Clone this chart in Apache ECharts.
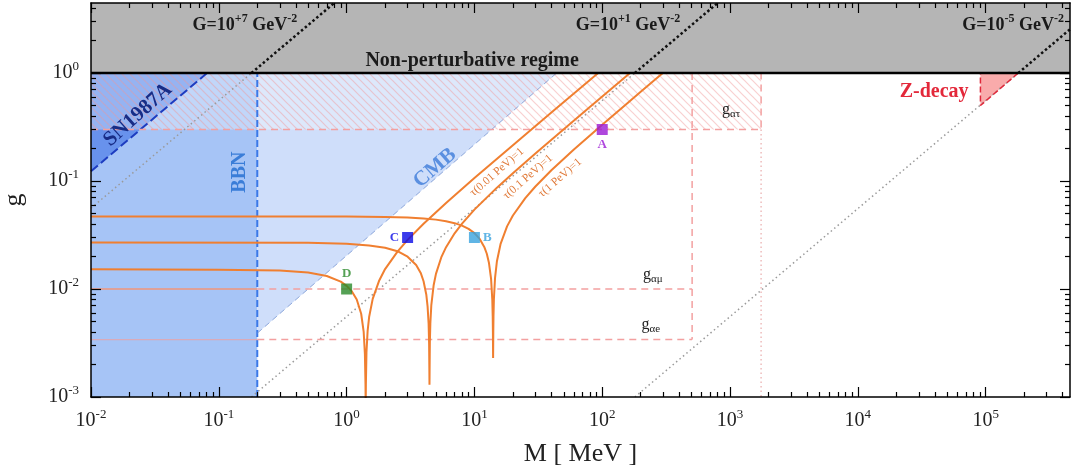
<!DOCTYPE html>
<html><head><meta charset="utf-8">
<script src="https://cdn.jsdelivr.net/npm/echarts@6/dist/echarts.min.js"></script>
<style>html,body{margin:0;padding:0;background:#fff}#c{width:1071px;height:473px}</style>
</head><body><div id="c"></div>
<script>
// ---------------- data (M in MeV, g dimensionless) ----------------
const xTickValues = [1e-2, 1e-1, 1e0, 1e1, 1e2, 1e3, 1e4, 1e5];
const yTickValues = [1e-3, 1e-2, 1e-1, 1e0];
const xRange = [1e-2, 4.57e5];
const yRange = [1e-3, 4.45];

// tau = 1 contours (E = 0.01, 0.1, 1 PeV)
const curveTau001 = [[0.01,0.0152],[0.1,0.0151],[0.3,0.0148],[0.5,0.0142],[0.7,0.0132],[0.9,0.0117],[1.0,0.0107],[1.1,0.0095],[1.2,0.0080],[1.3,0.0059],[1.36,0.0040],[1.39,0.0025],[1.405,0.0013],[1.41,0.0008],[1.415,0.0013],[1.43,0.0026],[1.46,0.0041],[1.5,0.0055],[1.6,0.0081],[1.8,0.0120],[2.0,0.0153],[2.5,0.0222],[3,0.0285],[4,0.0402],[6,0.0627],[10,0.1065],[20,0.2145],[40,0.430],[93,1.0]];
const curveTau01 = [[0.01,0.0270],[0.5,0.0268],[1,0.0263],[1.5,0.0253],[2,0.0241],[2.5,0.0224],[3,0.0199],[3.5,0.0167],[3.8,0.0141],[4.0,0.0118],[4.2,0.0089],[4.3,0.0069],[4.38,0.0048],[4.42,0.0031],[4.44,0.0018],[4.45,0.0013],[4.46,0.0018],[4.48,0.0032],[4.52,0.0048],[4.6,0.0071],[4.8,0.0109],[5,0.0138],[5.5,0.0196],[6,0.0244],[7,0.0328],[8,0.0403],[10,0.0543],[15,0.0868],[20,0.118],[30,0.180],[50,0.302],[80,0.484],[165,1.0]];
const curveTau1 = [[0.01,0.0470],[1,0.0469],[2,0.0465],[3,0.0459],[4,0.0450],[5,0.0439],[6,0.0424],[7,0.0407],[8,0.0386],[9,0.0360],[10,0.0329],[11,0.0291],[12,0.0242],[12.5,0.0212],[13,0.0174],[13.5,0.0124],[13.8,0.0079],[13.9,0.0056],[13.95,0.0040],[14.0,0.0023],[14.05,0.0040],[14.1,0.0056],[14.2,0.0080],[14.5,0.0127],[15,0.0181],[16,0.0260],[18,0.0380],[20,0.0479],[25,0.0695],[30,0.0890],[40,0.1257],[60,0.1958],[100,0.332],[150,0.501],[200,0.670],[298,1.0]];

// benchmark points
const pointNames = ['A', 'B', 'C', 'D'];
const pointM = [100, 10, 3, 1];
const pointG = [0.3, 0.03, 0.03, 0.01];

// excluded regions / bounds
const gNonPert = 1;
const mBBN = 0.2;
const cmbEdge = [[0.2, 0.0039], [44, 1]];
const snEdge = [[0.01, 0.123], [0.081, 1]];
const zDecay = [[9.1e4, 1], [1.8e5, 1], [9.1e4, 0.5]];
const gAlphaTau = 0.3, gAlphaMu = 0.01, gAlphaE = 0.0034;
const mBoxMuE = 505, mBoxTau = 1750;
// constant-G lines (G = 1e7, 1e1, 1e-5 GeV^-2)
const gLinesBelow = [[[0.01, 0.056], [0.18, 1]], [[0.18, 0.001], [180, 1]], [[180, 0.001], [1.8e5, 1]]];
const gLinesAbove = [[[0.18, 1], [0.8, 4.45]], [[180, 1], [800, 4.45]], [[1.8e5, 1], [8.0e5, 4.45]]];

// ---------------- helpers ----------------
const L = v => Math.log10(v);
const P = p => [L(p[0]), L(p[1])];
const SERIF = "'Liberation Serif','DejaVu Serif',serif";

function lineSeries(pts, color, width, type, z) {
  return { type: 'line', data: pts.map(P), symbol: 'none', silent: true, z: z, clip: true,
    animation: false, lineStyle: { color: color, width: width, type: type } };
}
function polySeries(pts, style, z) {
  return { type: 'custom', z: z, silent: true, animation: false, data: [P(pts[0])],
    renderItem: (params, api) => ({ type: 'polygon', shape: { points: pts.map(p => api.coord(P(p))) }, style: style }) };
}
function makeHatch() {
  const c = document.createElement('canvas'); c.width = 8; c.height = 8;
  const ctx = c.getContext('2d');
  ctx.fillStyle = 'rgba(255,255,255,0.30)'; ctx.fillRect(0, 0, 8, 8);
  ctx.strokeStyle = 'rgba(240,150,150,0.45)'; ctx.lineWidth = 1.2;
  ctx.beginPath();
  ctx.moveTo(-1, -1); ctx.lineTo(9, 9);
  ctx.moveTo(-1, 7); ctx.lineTo(1, 9);
  ctx.moveTo(7, -1); ctx.lineTo(9, 1);
  ctx.stroke();
  return c;
}

const xMaj = xTickValues.map(L), yMaj = yTickValues.map(L);
const xMin = [], yMin = [];
for (let d = -2; d <= 5; d++) for (let k = 2; k <= 9; k++) { const v = k * Math.pow(10, d); if (v <= xRange[1]) xMin.push(L(v)); }
for (let d = -3; d <= 0; d++) for (let k = 2; k <= 9; k++) { const v = k * Math.pow(10, d); if (v <= yRange[1]) yMin.push(L(v)); }

const tickFmt = v => '{b|10}{s|' + Math.round(v) + '}';
const tickRich = {
  b: { fontSize: 20, lineHeight: 25, fontFamily: SERIF, color: '#222' },
  s: { fontSize: 13, lineHeight: 13, verticalAlign: 'top', fontFamily: SERIF, color: '#222' }
};
const blk = { color: '#000', width: 1.2 };

function xAx(pos, ticks, len, showLine, label) {
  const a = { type: 'value', position: pos, min: L(xRange[0]), max: L(xRange[1]), z: 10,
    axisLine: { show: showLine, onZero: false, lineStyle: { color: '#000', width: 1.5 } },
    axisTick: { show: true, inside: true, length: len, customValues: ticks, lineStyle: blk },
    axisLabel: { show: false }, splitLine: { show: false } };
  if (label) {
    a.axisLabel = { show: true, customValues: xMaj, formatter: tickFmt, rich: tickRich, margin: 11 };
    a.name = 'M [ MeV ]'; a.nameLocation = 'middle'; a.nameGap = 44;
    a.nameTextStyle = { fontSize: 26, fontFamily: SERIF, color: '#222' };
  }
  return a;
}
function yAx(pos, ticks, len, showLine, label) {
  const a = { type: 'value', position: pos, min: L(yRange[0]), max: L(yRange[1]), z: 10,
    axisLine: { show: showLine, onZero: false, lineStyle: { color: '#000', width: 1.5 } },
    axisTick: { show: true, inside: true, length: len, customValues: ticks, lineStyle: blk },
    axisLabel: { show: false }, splitLine: { show: false } };
  if (label) {
    a.axisLabel = { show: true, customValues: yMaj, formatter: tickFmt, rich: tickRich, margin: 12 };
    a.name = 'g'; a.nameLocation = 'middle'; a.nameGap = 64;
    a.nameTextStyle = { fontSize: 26, fontFamily: SERIF, color: '#222' };
  }
  return a;
}

// ---------------- annotations ----------------
const sup = (f, sf, col) => ({ t: { fontSize: f, lineHeight: f + 6, fontFamily: SERIF, fontWeight: 'bold', fill: col },
  u: { fontSize: sf, lineHeight: sf, verticalAlign: 'top', fontFamily: SERIF, fontWeight: 'bold', fill: col } });
const subR = { t: { fontSize: 16, lineHeight: 20, fontFamily: SERIF, fill: '#222' },
  d: { fontSize: 11, lineHeight: 11, verticalAlign: 'bottom', fontFamily: SERIF, fill: '#222' } };
const plain = (f, col, w) => ({ t: { fontSize: f, fontFamily: SERIF, fontWeight: w || 'bold', fill: col } });
const gRich = sup(18, 12, '#1a1a1a');
const annotations = [
  { at: [9.6, 1.29], text: '{t|Non-perturbative regime}', rich: plain(20, '#1a1a1a'), rot: 0 },
  { at: [0.16, 2.78], text: '{t|G=10}{u|+7}{t| GeV}{u|-2}', rich: gRich, rot: 0 },
  { at: [159, 2.78], text: '{t|G=10}{u|+1}{t| GeV}{u|-2}', rich: gRich, rot: 0 },
  { at: [1.64e5, 2.78], text: '{t|G=10}{u|-5}{t| GeV}{u|-2}', rich: gRich, rot: 0 },
  { at: [3.95e4, 0.667], text: '{t|Z-decay}', rich: plain(20, '#e3283a'), rot: 0 },
  { at: [0.0233, 0.409], text: '{t|SN1987A}', rich: plain(21, '#182c86'), rot: 42 },
  { at: [4.92, 0.132], text: '{t|CMB}', rich: plain(21, '#5a8fe0'), rot: 41 },
  { at: [0.147, 0.121], text: '{t|BBN}', rich: plain(20, '#3a7dd8'), rot: 90 },
  { at: [15.0, 0.121], text: '{t|τ(0.01 PeV)=1}', rich: plain(11.5, '#e07a3a', 'normal'), rot: 41 },
  { at: [26.2, 0.109], text: '{t|τ(0.1 PeV)=1}', rich: plain(11.5, '#e07a3a', 'normal'), rot: 41 },
  { at: [46.8, 0.107], text: '{t|τ(1 PeV)=1}', rich: plain(11.5, '#e07a3a', 'normal'), rot: 41 },
  { at: [1020, 0.454], text: '{t|g}{d|ατ}', rich: subR, rot: 0 },
  { at: [249, 0.0135], text: '{t|g}{d|αμ}', rich: subR, rot: 0 },
  { at: [240, 0.00464], text: '{t|g}{d|αe}', rich: subR, rot: 0 }
];
const pointColors = ['#9b19d4', '#38a2df', '#0a0ae6', '#2a8a2a'];
const pointLabelPos = ['bottom', 'right', 'left', 'top'];

// ---------------- series ----------------
const pink = '#f3a0a0';
const series = [
  polySeries([[xRange[0], gNonPert], [xRange[1], gNonPert], [xRange[1], yRange[1]], [xRange[0], yRange[1]]], { fill: '#b5b5b5' }, 1),
  polySeries([[xRange[0], yRange[0]], [mBBN, yRange[0]], [mBBN, gNonPert], [xRange[0], gNonPert]], { fill: '#a6c4f6' }, 2),
  polySeries([cmbEdge[0], cmbEdge[1], [mBBN, gNonPert]], { fill: '#cfdefa' }, 2),
  polySeries([snEdge[0], snEdge[1], [xRange[0], gNonPert]], { fill: '#6892ec' }, 2),
  polySeries([[xRange[0], gAlphaTau], [mBoxTau, gAlphaTau], [mBoxTau, gNonPert], [xRange[0], gNonPert]], { fill: { image: makeHatch(), repeat: 'repeat' } }, 3),
  polySeries(zDecay, { fill: 'rgba(248,150,150,0.8)' }, 3)
];
gLinesBelow.forEach(l => series.push(lineSeries(l, '#9a9a9a', 1.5, [1.5, 3], 4)));
gLinesAbove.forEach(l => series.push(lineSeries(l, '#111', 2.5, [2.5, 2.5], 4)));
series.push(
  lineSeries([[mBBN, yRange[0]], [mBBN, gNonPert]], '#3a78e8', 2, [7, 3], 4),
  lineSeries(snEdge, '#1d3cc0', 2, [9, 4], 4),
  lineSeries(cmbEdge, 'rgba(120,150,210,0.8)', 1, [6, 4], 4),
  lineSeries([[xRange[0], gAlphaTau], [mBoxTau, gAlphaTau], [mBoxTau, gNonPert]], pink, 1.5, [7, 5], 4),
  lineSeries([[xRange[0], gAlphaMu], [mBBN, gAlphaMu]], '#f0967a', 1.5, 'solid', 4),
  lineSeries([[mBBN, gAlphaMu], [mBoxMuE, gAlphaMu]], pink, 1.5, [7, 5], 4),
  lineSeries([[xRange[0], gAlphaE], [mBBN, gAlphaE]], 'rgba(240,160,160,0.7)', 1.2, 'solid', 4),
  lineSeries([[mBBN, gAlphaE], [mBoxMuE, gAlphaE]], pink, 1.5, [7, 5], 4),
  lineSeries([[mBoxMuE, gNonPert], [mBoxMuE, gAlphaE]], pink, 1.5, [7, 5], 4),
  lineSeries([[mBoxTau, gAlphaTau], [mBoxTau, yRange[0]]], 'rgba(235,180,180,0.9)', 1.5, [1.5, 3], 4),
  lineSeries([zDecay[1], zDecay[2], zDecay[0]], '#e0283a', 1.5, [6, 3], 4),
  lineSeries(curveTau001, '#f07f30', 2, 'solid', 5),
  lineSeries(curveTau01, '#f07f30', 2, 'solid', 5),
  lineSeries(curveTau1, '#f07f30', 2, 'solid', 5),
  lineSeries([[xRange[0], gNonPert], [xRange[1], gNonPert]], '#000', 2.5, 'solid', 6),
  { type: 'scatter', z: 7, silent: true, animation: false, symbol: 'rect', symbolSize: 11,
    data: pointNames.map((n, i) => ({ name: n, value: P([pointM[i], pointG[i]]), itemStyle: { color: pointColors[i] },
      label: { show: true, formatter: '{b}', position: pointLabelPos[i], distance: 3, color: pointColors[i],
        fontFamily: SERIF, fontWeight: 'bold', fontSize: 13 } })) },
  { type: 'custom', z: 8, silent: true, animation: false, data: annotations.map(a => P(a.at)),
    renderItem: (params, api) => {
      const a = annotations[params.dataIndex];
      const p = api.coord(P(a.at));
      return { type: 'text', x: p[0], y: p[1], rotation: a.rot * Math.PI / 180,
        style: { text: a.text, rich: a.rich, align: 'center', verticalAlign: 'middle', fontFamily: SERIF } };
    } }
);

const chart = echarts.init(document.getElementById('c'), null, { renderer: 'canvas', width: 1071, height: 473 });
chart.setOption({
  animation: false,
  backgroundColor: '#fff',
  grid: { left: 91, right: 1, top: 3, bottom: 76, containLabel: false, outerBoundsMode: 'none' },
  xAxis: [xAx('bottom', xMaj, 10, true, true), xAx('bottom', xMin, 5, false, false), xAx('top', xMaj, 10, true, false), xAx('top', xMin, 5, false, false)],
  yAxis: [yAx('left', yMaj, 10, true, true), yAx('left', yMin, 5, false, false), yAx('right', yMaj, 10, true, false), yAx('right', yMin, 5, false, false)],
  series: series
});
</script></body></html>
